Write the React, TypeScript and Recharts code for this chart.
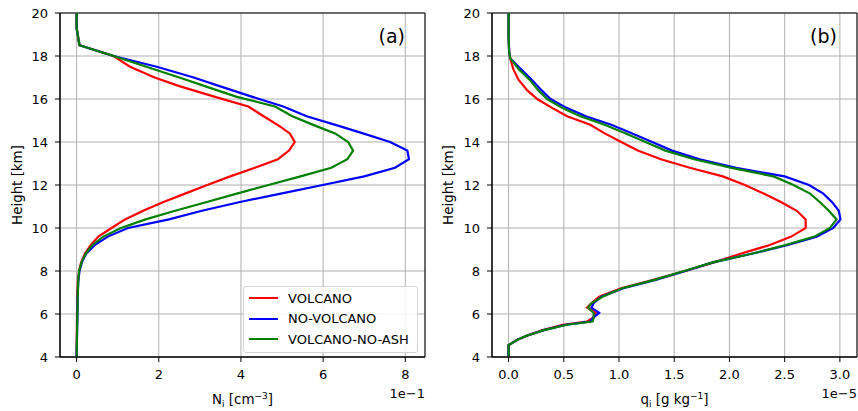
import React from "react";
import {
  LineChart,
  Line,
  XAxis,
  YAxis,
  CartesianGrid,
  Legend,
  ReferenceArea,
} from "recharts";

// heights [km] for panel (a)
const H_A = [
  20, 19.3, 18.5, 18.0, 17.5, 17.0, 16.6, 16.1, 15.65, 15.2, 14.75, 14.4, 14.0,
  13.6, 13.2, 12.8, 12.4, 12.0, 11.6, 11.2, 10.8, 10.4, 10.0, 9.6, 9.2, 8.8,
  8.4, 8.0, 7.5, 7.0, 6.0, 5.0, 4.0,
];
// N_i in units of 1e-1 cm^-3
const NI_VOLCANO = [
  0, 0, 0.07, 0.9, 1.3, 1.9, 2.5, 3.37, 4.18, 4.55, 4.93, 5.19, 5.31, 5.17, 4.9,
  4.34, 3.74, 3.18, 2.64, 2.1, 1.62, 1.18, 0.85, 0.53, 0.34, 0.2, 0.11, 0.06,
  0.03, 0.02, 0.01, 0.005, 0,
];
const NI_NOVOLCANO = [
  0, 0, 0.07, 0.9, 1.95, 2.85, 3.48, 4.28, 5.03, 5.6, 6.38, 6.97, 7.63, 8.05,
  8.09, 7.75, 7.0, 5.99, 4.97, 3.95, 3.05, 2.25, 1.25, 0.76, 0.44, 0.23, 0.13,
  0.07, 0.04, 0.03, 0.02, 0.01, 0,
];
const NI_NOASH = [
  0, 0, 0.07, 0.9, 1.7, 2.5, 3.12, 3.9, 4.83, 5.25, 5.82, 6.29, 6.61, 6.73,
  6.59, 6.2, 5.45, 4.67, 3.9, 3.15, 2.4, 1.68, 1.08, 0.65, 0.38, 0.22, 0.12,
  0.06, 0.04, 0.03, 0.02, 0.01, 0,
];

// heights [km] for panel (b)
const H_B = [
  20, 19, 18.2, 17.9, 17.4, 16.9, 16.4, 16.0, 15.6, 15.2, 14.8, 14.4, 14.0,
  13.6, 13.2, 12.8, 12.4, 12.0, 11.6, 11.2, 10.8, 10.4, 10.0, 9.6, 9.2, 8.8,
  8.4, 8.0, 7.6, 7.2, 6.8, 6.5, 6.3, 6.05, 5.8, 5.65, 5.5, 5.25, 5.0, 4.8,
  4.55, 4.0,
];
// q_i in units of 1e-5 g/kg
const QI_VOLCANO = [
  0, 0, 0.005, 0.015, 0.042, 0.09, 0.17, 0.26, 0.39, 0.53, 0.74, 0.87, 1.02,
  1.17, 1.38, 1.64, 1.94, 2.14, 2.31, 2.47, 2.61, 2.69, 2.69, 2.56, 2.36, 2.1,
  1.86, 1.6, 1.32, 1.02, 0.82, 0.75, 0.71, 0.79, 0.76, 0.71, 0.49, 0.31, 0.17,
  0.08, 0, 0,
];
const QI_NOVOLCANO = [
  0, 0, 0.005, 0.015, 0.11, 0.21, 0.3, 0.38, 0.52, 0.7, 0.93, 1.12, 1.3, 1.48,
  1.73, 2.06, 2.5, 2.72, 2.85, 2.93, 2.99, 3.005, 2.94, 2.79, 2.52, 2.2, 1.85,
  1.6, 1.34, 1.04, 0.84, 0.77, 0.75, 0.82, 0.76, 0.74, 0.52, 0.32, 0.17, 0.08,
  0, 0,
];
const QI_NOASH = [
  0, 0, 0.005, 0.015, 0.09, 0.19, 0.27, 0.35, 0.48, 0.65, 0.87, 1.06, 1.24,
  1.42, 1.68, 2.02, 2.4, 2.58, 2.73, 2.82, 2.9, 2.97, 2.91, 2.77, 2.5, 2.2,
  1.85, 1.59, 1.33, 1.03, 0.85, 0.75, 0.72, 0.77, 0.77, 0.76, 0.53, 0.32, 0.17,
  0.08, 0, 0,
];

const SERIES_NAMES = ["VOLCANO", "NO-VOLCANO", "VOLCANO-NO-ASH"];
const HEIGHT_TICKS = [4, 6, 8, 10, 12, 14, 16, 18, 20];
const NI_TICKS = [0, 2, 4, 6, 8];
const QI_TICKS = [0, 0.5, 1.0, 1.5, 2.0, 2.5, 3.0];

const FONT = "'DejaVu Sans', sans-serif";

const rowsA = H_A.map((h, i) => ({
  h,
  volcano: NI_VOLCANO[i],
  novolcano: NI_NOVOLCANO[i],
  noash: NI_NOASH[i],
}));
const rowsB = H_B.map((h, i) => ({
  h,
  volcano: QI_VOLCANO[i],
  novolcano: QI_NOVOLCANO[i],
  noash: QI_NOASH[i],
}));

function LegendBox(props: any) {
  const items = [...(props.payload || [])].sort(
    (a: any, b: any) =>
      SERIES_NAMES.indexOf(a.value) - SERIES_NAMES.indexOf(b.value)
  );
  return (
    <div
      style={{
        border: "1px solid #d4d4d4",
        borderRadius: 3,
        background: "rgba(255,255,255,0.85)",
        padding: "1px 0 2px 0",
        width: 173,
        fontFamily: FONT,
        fontSize: 13,
        color: "#000",
      }}
    >
      {items.map((p: any) => (
        <div
          key={p.value}
          style={{ height: 20.5, display: "flex", alignItems: "center" }}
        >
          <span
            style={{
              display: "inline-block",
              width: 29,
              height: 2,
              marginLeft: 5,
              marginRight: 10,
              background: p.color,
            }}
          />
          <span>{p.value}</span>
        </div>
      ))}
    </div>
  );
}

function Panel(props: {
  data: any[];
  width: number;
  yWidth: number;
  right: number;
  domain: [number, number];
  ticks: number[];
  fmt?: (v: number) => string;
  legend?: boolean;
}) {
  const { data, width, yWidth, right, domain, ticks, fmt, legend } = props;
  const tickStyle = { fill: "#000", fontSize: 13, fontFamily: FONT };
  return (
    <LineChart
      width={width}
      height={411}
      data={data}
      layout="vertical"
      margin={{ top: 13, right, bottom: 24, left: 0 }}
    >
      <CartesianGrid stroke="#b0b0b0" strokeWidth={1} />
      <XAxis
        type="number"
        domain={domain}
        ticks={ticks}
        allowDataOverflow
        tickFormatter={fmt}
        height={30}
        tickSize={5}
        tickMargin={8}
        tick={tickStyle}
        axisLine={{ stroke: "#000" }}
        tickLine={{ stroke: "#000" }}
      />
      <YAxis
        type="number"
        dataKey="h"
        domain={[4, 20]}
        ticks={HEIGHT_TICKS}
        allowDataOverflow
        reversed
        width={yWidth}
        tickSize={5}
        tickMargin={7}
        tick={tickStyle}
        axisLine={{ stroke: "#000" }}
        tickLine={{ stroke: "#000" }}
      />
      <ReferenceArea
        x1={domain[0]}
        x2={domain[1]}
        y1={4}
        y2={20}
        fill="none"
        stroke="#000"
        strokeWidth={1}
        ifOverflow="visible"
      />
      <Line
        type="linear"
        dataKey="volcano"
        name={SERIES_NAMES[0]}
        stroke="#ff0000"
        strokeWidth={2.2}
        dot={false}
        isAnimationActive={false}
      />
      <Line
        type="linear"
        dataKey="novolcano"
        name={SERIES_NAMES[1]}
        stroke="#0000ff"
        strokeWidth={2.2}
        dot={false}
        isAnimationActive={false}
      />
      <Line
        type="linear"
        dataKey="noash"
        name={SERIES_NAMES[2]}
        stroke="#008000"
        strokeWidth={2.2}
        dot={false}
        isAnimationActive={false}
      />
      {legend && (
        <Legend
          layout="vertical"
          align="center"
          verticalAlign="middle"
          content={<LegendBox />}
          wrapperStyle={{ left: 243, top: 286, width: 175, height: 65 }}
        />
      )}
    </LineChart>
  );
}

export default function App() {
  const sub = { fontSize: 9 };
  return (
    <div
      style={{
        position: "absolute",
        left: 0,
        top: 0,
        width: 858,
        height: 411,
        background: "#fff",
        overflow: "hidden",
      }}
    >
      <div style={{ position: "absolute", left: 0, top: 0 }}>
        <Panel
          data={rowsA}
          width={430}
          yWidth={60}
          right={5}
          domain={[-0.404, 8.48]}
          ticks={NI_TICKS}
          legend
        />
      </div>
      <div style={{ position: "absolute", left: 430, top: 0 }}>
        <Panel
          data={rowsB}
          width={428}
          yWidth={62}
          right={1}
          domain={[-0.15, 3.155]}
          ticks={QI_TICKS}
          fmt={(v) => v.toFixed(1)}
        />
      </div>
      <svg
        width={858}
        height={411}
        style={{ position: "absolute", left: 0, top: 0, pointerEvents: "none" }}
        fontFamily={FONT}
        fill="#000"
      >
        <text x={405} y={42.5} fontSize={19} textAnchor="end">(a)</text>
        <text x={837} y={42.5} fontSize={19} textAnchor="end">(b)</text>
        <text
          x={17}
          y={185}
          fontSize={13.4}
          textAnchor="middle"
          dominantBaseline="central"
          transform="rotate(-90 17 185)"
        >
          Height [km]
        </text>
        <text
          x={448}
          y={185}
          fontSize={13.4}
          textAnchor="middle"
          dominantBaseline="central"
          transform="rotate(-90 448 185)"
        >
          Height [km]
        </text>
        <text x={242.5} y={404} fontSize={13.4} textAnchor="middle">
          N<tspan {...sub} dy={3}>i</tspan>
          <tspan dy={-3}> [cm</tspan>
          <tspan {...sub} dy={-5}>−3</tspan>
          <tspan dy={5}>]</tspan>
        </text>
        <text x={674.5} y={404} fontSize={13.4} textAnchor="middle">
          q<tspan {...sub} dy={3}>i</tspan>
          <tspan dy={-3}> [g kg</tspan>
          <tspan {...sub} dy={-5}>−1</tspan>
          <tspan dy={5}>]</tspan>
        </text>
        <text x={425} y={398} fontSize={13} textAnchor="end">1e−1</text>
        <text x={857} y={398} fontSize={13} textAnchor="end">1e−5</text>
      </svg>
    </div>
  );
}
